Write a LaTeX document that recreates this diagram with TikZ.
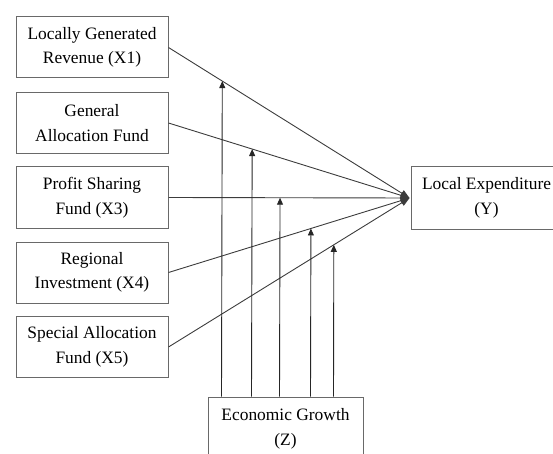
\documentclass[tikz,border=0pt]{standalone}
\usepackage{fontspec}
\setmainfont{Liberation Serif}
\usetikzlibrary{arrows.meta,calc}
\definecolor{boxgray}{RGB}{105,105,105}
\definecolor{linegray}{RGB}{60,60,60}
\begin{document}
\begin{tikzpicture}[x=1pt,y=-1pt,
  box/.style={draw=boxgray, line width=1pt, minimum width=152pt, minimum height=61pt,
    align=center, inner sep=0pt, font=\fontsize{17.4}{24.5}\selectfont},
  link/.style={draw=linegray, line width=0.9pt, -{Triangle[length=9pt,width=7pt]}},
  modline/.style={draw=black!85, line width=0.9pt, -{Triangle[length=7pt,width=6pt]}}]
\useasboundingbox (0,0) rectangle (553,454);
\clip (0,0) rectangle (553,454);
\node[box] (x1) at (92,47.5) {Locally Generated\\Revenue (X1)};
\node[box] (x2) at (92,123) {General\\Allocation Fund};
\node[box] (x3) at (92,197.5) {Profit Sharing\\Fund (X3)};
\node[box] (x4) at (92,272.5) {Regional\\Investment (X4)};
\node[box] (x5) at (92,347) {Special Allocation\\Fund (X5)};
\node[box, minimum width=151pt, minimum height=62pt] (y) at (486.5,198) {Local Expenditure\\(Y)};
\node[box, minimum width=155pt, minimum height=64pt] (z) at (285.5,429) {Economic Growth\\(Z)};
\coordinate (yin) at ($(y.west)+(-1,0)$);
\foreach \i in {1,...,5}{
  \draw[link] (x\i.east) -- (yin);
}
\foreach \i/\dx in {1/14,2/44,3/72,4/103,5/126}{
  \coordinate (z\i) at ($(z.north west)+(\dx,0)$);
  \coordinate (t\i) at ($(x\i.east)!{(\dx+40)/242}!(yin)$);
  \draw[modline] (z\i) -- (t\i);
}
\end{tikzpicture}
\end{document}
